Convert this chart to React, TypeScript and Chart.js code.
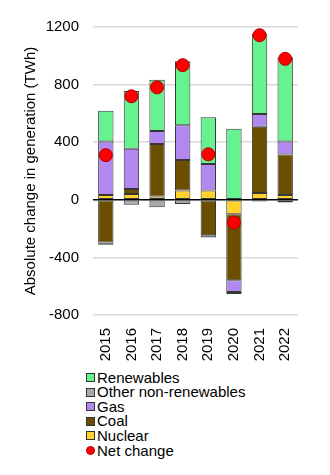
import React, { useEffect, useRef } from 'react';
import { Chart, registerables } from 'chart.js';

Chart.register(...registerables);

const years = ['2015', '2016', '2017', '2018', '2019', '2020', '2021', '2022'];
const nuclear = [33, 40, 23, 65, 65, -100, 47, 33];
const coal = [-297, 35, 364, 211, -246, -459, 461, 282];
const gas = [372, 280, 91, 241, 183, -81, 88, 90];
const otherNonRenewables = [-16, -35, -51, -30, -16, -14, -12, -19];
const renewables = [214, 400, 355, 445, 325, 494, 557, 585];
const netChange = [310, 719, 781, 935, 316, -158, 1143, 979];

const yTicks = [-800, -400, 0, 400, 800, 1200];
const yTitle = 'Absolute change in generation (TWh)';

const COLORS = {
  renewables: '#66f28f',
  other: '#a9a9a9',
  gas: '#b188ef',
  coal: '#6b4e00',
  nuclear: '#ffd22c',
  net: '#ff0000',
};

const legendItems = [
  { label: 'Renewables', color: COLORS.renewables, shape: 'box' },
  { label: 'Other non-renewables', color: COLORS.other, shape: 'box' },
  { label: 'Gas', color: COLORS.gas, shape: 'box' },
  { label: 'Coal', color: COLORS.coal, shape: 'box' },
  { label: 'Nuclear', color: COLORS.nuclear, shape: 'box' },
  { label: 'Net change', color: COLORS.net, shape: 'circle' },
];

const FONT = '"Liberation Sans", Arial, sans-serif';

export default function App() {
  const ref = useRef<HTMLCanvasElement>(null);

  useEffect(() => {
    if (!ref.current) return;
    Chart.defaults.font.family = FONT;
    const barCommon = {
      type: 'bar' as const,
      borderColor: 'rgba(20,20,20,0.85)',
      borderWidth: 1,
      borderSkipped: false as const,
      barPercentage: 0.6,
      categoryPercentage: 1,
    };
    const chart = new Chart(ref.current, {
      type: 'bar',
      data: {
        labels: years,
        datasets: [
          { ...barCommon, label: 'Nuclear', data: nuclear, backgroundColor: COLORS.nuclear },
          { ...barCommon, label: 'Coal', data: coal, backgroundColor: COLORS.coal },
          { ...barCommon, label: 'Gas', data: gas, backgroundColor: COLORS.gas },
          { ...barCommon, label: 'Other non-renewables', data: otherNonRenewables, backgroundColor: COLORS.other },
          { ...barCommon, label: 'Renewables', data: renewables, backgroundColor: COLORS.renewables },
          {
            type: 'line' as const,
            label: 'Net change',
            data: netChange,
            showLine: false,
            stack: 'net',
            order: -1,
            pointRadius: 6.5,
            pointBackgroundColor: COLORS.net,
            pointBorderColor: '#b00000',
            pointBorderWidth: 1,
            backgroundColor: COLORS.net,
            borderColor: '#b00000',
          } as any,
        ],
      },
      options: {
        responsive: false,
        animation: false,
        layout: { padding: { top: 27, right: 32, bottom: 4, left: 0 } },
        plugins: { legend: { display: false }, tooltip: { enabled: false } },
        scales: {
          x: {
            stacked: true,
            grid: { display: false, drawTicks: false },
            border: { display: false },
            afterFit: (scale: any) => {
              scale.height = 46;
            },
            ticks: {
              minRotation: 90,
              maxRotation: 90,
              padding: 13,
              color: '#000',
              font: { size: 15, family: FONT },
            },
          },
          y: {
            stacked: true,
            min: yTicks[0],
            max: yTicks[yTicks.length - 1],
            afterBuildTicks: (scale: any) => {
              scale.ticks = yTicks.map((v) => ({ value: v }));
            },
            afterFit: (scale: any) => {
              scale.width = 93;
            },
            grid: {
              drawTicks: false,
              color: (ctx: any) => (ctx.tick && ctx.tick.value === 0 ? '#000000' : '#d9d9d9'),
              lineWidth: 1.5,
            },
            border: { display: false },
            ticks: {
              padding: 14,
              color: '#000',
              font: { size: 15, family: FONT },
              callback: (v: any) => String(v),
            },
            title: {
              display: true,
              text: yTitle,
              color: '#000',
              font: { size: 15, family: FONT },
              padding: { top: 22, bottom: 0 },
            },
          },
        },
      },
    });
    return () => chart.destroy();
  }, []);

  return (
    <div style={{ position: 'absolute', left: 0, top: 0, width: 330, height: 475, background: '#fff', fontFamily: FONT }}>
      <canvas ref={ref} width={330} height={365} style={{ display: 'block', width: 330, height: 365 }} />
      {legendItems.map((it, i) => {
        const cy = 377.5 + i * 14.6;
        return (
          <div
            key={it.label}
            style={{
              position: 'absolute',
              left: 86,
              top: cy - 9,
              height: 18,
              display: 'flex',
              alignItems: 'center',
              fontSize: 15,
              lineHeight: '18px',
              color: '#000',
              whiteSpace: 'nowrap',
            }}
          >
            <span
              style={{
                display: 'inline-block',
                width: it.shape === 'circle' ? 9 : 7,
                height: it.shape === 'circle' ? 9 : 7,
                background: it.color,
                border: it.shape === 'circle' ? '0.5px solid #b00000' : '1px solid #333',
                borderRadius: it.shape === 'circle' ? '50%' : 0,
                marginRight: 2,
                boxSizing: it.shape === 'circle' ? 'border-box' : 'content-box',
              }}
            />
            <span>{it.label}</span>
          </div>
        );
      })}
    </div>
  );
}
